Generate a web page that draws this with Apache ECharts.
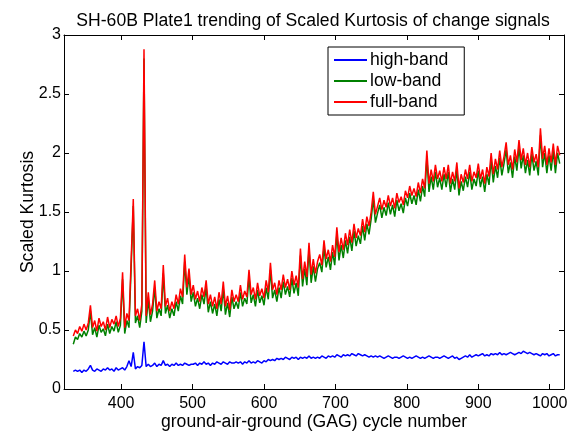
<!DOCTYPE html>
<html>
<head>
<meta charset="utf-8">
<script src="https://cdn.jsdelivr.net/npm/echarts@6/dist/echarts.min.js"></script>
<style>
  html, body { margin: 0; padding: 0; background: #fff; }
  #chart { width: 574px; height: 432px; }
</style>
</head>
<body>
<div id="chart"></div>
<script>
// GAG cycle numbers (every 3rd cycle from 333 to 1014)
const firstCycle = 333;
const cycleStep = 3;

// Scaled kurtosis, high-band change signal
const highBand = [
  0.15,0.16,0.15,0.16,0.14,0.16,0.15,0.17,0.20,0.16,0.15,0.17,0.16,0.15,0.17,0.16,0.18,0.16,0.17,0.15,0.18,0.16,0.17,
  0.18,0.16,0.19,0.24,0.19,0.31,0.17,0.19,0.18,0.20,0.40,0.19,0.21,0.19,0.20,0.22,0.19,0.21,0.20,0.24,0.20,0.21,0.19,0.21,0.20,0.22,0.20,0.21,0.20,0.22,0.21,0.20,0.21,
  0.21,0.22,0.20,0.22,0.21,0.23,0.21,0.22,0.20,0.22,0.21,0.23,0.22,0.21,0.23,0.22,0.21,0.23,0.22,0.22,
  0.23,0.22,0.23,0.21,0.23,0.22,0.24,0.22,0.23,0.22,0.24,0.23,0.22,0.24,0.23,0.25,0.24,0.25,0.24,0.26,
  0.25,0.26,0.25,0.27,0.26,0.25,0.27,0.26,0.27,0.25,0.27,0.26,0.27,0.26,0.28,0.26,0.27,0.26,
  0.27,0.26,0.28,0.27,0.26,0.28,0.27,0.28,0.27,0.29,0.28,0.27,0.29,0.28,0.29,0.28,0.30,0.29,0.28,0.30,0.29,0.28,0.29,0.28,0.27,0.28,0.27,0.28,
  0.27,0.28,0.27,0.26,0.27,0.28,0.27,0.26,0.27,0.27,0.26,0.27,0.28,0.27,0.26,0.27,0.26,0.27,0.28,0.27,0.26,0.27,0.26,0.27,0.28,0.27,0.26,0.27,0.27,0.26,0.27,0.28,
  0.27,0.26,0.27,0.28,0.26,0.27,0.25,0.26,0.27,0.28,0.27,0.29,0.27,0.28,0.29,0.28,0.29,0.30,0.28,0.29,0.28,0.30,0.29,
  0.30,0.29,0.31,0.29,0.30,0.29,0.30,0.31,0.30,0.29,0.30,0.31,0.30,0.32,0.31,0.30,0.31,0.30,0.29,0.30,0.29,0.28,0.30,0.29,0.30,0.28,0.29,0.30,0.28,0.29,0.29
];

// Scaled kurtosis, low-band change signal
const lowBand = [
  0.38,0.44,0.42,0.47,0.44,0.49,0.45,0.50,0.66,0.46,0.52,0.44,0.54,0.48,0.51,0.45,0.55,0.47,0.53,0.49,0.57,0.48,0.54,
  0.93,0.47,0.58,0.52,1.03,1.55,0.56,0.62,0.52,0.66,2.80,0.56,0.76,0.57,0.66,0.86,0.60,0.68,0.62,0.98,0.64,0.71,0.60,0.68,0.62,0.74,0.66,0.79,0.72,1.08,0.80,0.96,0.74,
  0.82,0.70,0.77,0.68,0.80,0.72,0.86,0.65,0.74,0.64,0.72,0.62,0.76,0.66,0.85,0.63,0.73,0.61,0.78,0.68,
  0.74,0.68,0.82,0.70,0.77,0.72,0.95,0.73,0.80,0.70,0.84,0.73,0.79,0.71,0.86,0.76,1.01,0.77,0.84,0.74,
  0.86,0.77,0.91,0.80,0.87,0.78,0.94,0.81,0.90,0.79,1.13,0.87,1.02,0.88,1.18,0.90,1.04,0.91,
  1.02,1.07,0.99,1.20,1.03,1.12,1.01,1.16,1.05,1.31,1.09,1.22,1.11,1.26,1.15,1.29,1.17,1.34,1.21,1.30,1.23,1.38,1.26,1.40,1.31,1.44,1.61,1.41,
  1.49,1.56,1.45,1.54,1.47,1.58,1.48,1.56,1.46,1.60,1.51,1.57,1.49,1.62,1.55,1.66,1.57,1.64,1.56,1.69,1.59,1.72,1.63,1.96,1.67,1.80,1.69,1.84,1.71,1.79,1.69,1.82,
  1.71,1.84,1.67,1.78,1.69,1.86,1.64,1.76,1.68,1.80,1.71,1.84,1.69,1.78,1.72,1.85,1.71,1.80,1.67,1.82,1.73,1.94,1.75,
  1.89,1.79,1.96,1.81,1.91,2.03,1.83,1.92,1.79,1.97,1.85,2.05,1.87,1.98,1.83,1.94,1.81,1.99,1.85,1.93,1.81,2.15,1.88,2.00,1.83,1.98,1.85,2.02,1.83,2.00,1.91
];

// Scaled kurtosis, full-band change signal
const fullBand = [
  0.45,0.50,0.47,0.53,0.49,0.55,0.50,0.56,0.71,0.52,0.58,0.49,0.60,0.53,0.57,0.50,0.61,0.52,0.59,0.55,0.62,0.53,0.60,
  0.99,0.52,0.64,0.58,1.09,1.61,0.62,0.68,0.58,0.72,2.88,0.62,0.82,0.63,0.72,0.92,0.66,0.74,0.68,1.05,0.70,0.77,0.66,0.74,0.68,0.80,0.72,0.85,0.78,1.14,0.86,1.02,0.80,
  0.88,0.76,0.83,0.74,0.86,0.78,0.92,0.72,0.80,0.70,0.78,0.68,0.82,0.72,0.91,0.70,0.79,0.67,0.84,0.74,
  0.80,0.74,0.88,0.76,0.83,0.78,1.01,0.80,0.86,0.76,0.90,0.79,0.85,0.77,0.92,0.82,1.07,0.84,0.90,0.80,
  0.92,0.84,0.97,0.86,0.93,0.84,1.00,0.88,0.96,0.86,1.19,0.93,1.08,0.95,1.24,0.97,1.10,0.98,
  1.08,1.14,1.05,1.26,1.10,1.18,1.08,1.22,1.12,1.37,1.16,1.28,1.18,1.32,1.22,1.35,1.24,1.40,1.28,1.36,1.30,1.44,1.33,1.46,1.38,1.50,1.67,1.48,
  1.55,1.62,1.52,1.60,1.54,1.64,1.55,1.62,1.53,1.66,1.58,1.63,1.56,1.68,1.62,1.72,1.64,1.70,1.63,1.75,1.66,1.78,1.70,2.02,1.74,1.86,1.76,1.90,1.78,1.85,1.76,1.88,
  1.78,1.90,1.74,1.84,1.76,1.92,1.70,1.82,1.75,1.86,1.78,1.90,1.76,1.84,1.79,1.91,1.78,1.86,1.74,1.88,1.80,2.00,1.82,
  1.95,1.86,2.02,1.88,1.97,2.09,1.90,1.98,1.86,2.03,1.92,2.11,1.94,2.04,1.90,2.00,1.88,2.05,1.92,1.99,1.88,2.21,1.95,2.06,1.90,2.04,1.92,2.08,1.90,2.06,1.98
];

const xTicks = [400, 500, 600, 700, 800, 900, 1000];
const yTicks = [0, 0.5, 1, 1.5, 2, 2.5, 3];

const cycles = highBand.map((_, i) => firstCycle + i * cycleStep);
const pairs = vals => vals.map((v, i) => [cycles[i], v]);

const FONT = 'Liberation Sans, Arial, sans-serif';
const TICK_FS = 16;
const LABEL_FS = 17.6;
const axisLine = { show: true, onZero: false, lineStyle: { color: '#000', width: 1 } };
const tick = { show: true, inside: true, length: 5, lineStyle: { color: '#000' } };

const chart = echarts.init(document.getElementById('chart'), null, { renderer: 'canvas' });
chart.setOption({
  animation: false,
  backgroundColor: '#fff',
  title: {
    text: 'SH-60B Plate1 trending of Scaled Kurtosis of change signals',
    left: 308, top: 7, textAlign: 'center',
    textStyle: { fontFamily: FONT, fontSize: LABEL_FS, fontWeight: 'normal', color: '#000' }
  },
  grid: { left: 64, right: 10, top: 35, bottom: 43, outerBoundsMode: 'none' },
  legend: {
    orient: 'vertical', left: 328, top: 47,
    backgroundColor: '#fff', borderColor: '#000', borderWidth: 1,
    padding: [4, 16, 4, 6], itemGap: 3, itemWidth: 33, itemHeight: 2,
    icon: 'rect',
    textStyle: { fontFamily: FONT, fontSize: LABEL_FS, color: '#000', padding: [0, 0, 0, -2] },
    data: ['high-band', 'low-band', 'full-band']
  },
  xAxis: [{
    type: 'value', min: 320, max: 1020, position: 'bottom',
    name: 'ground-air-ground (GAG) cycle number', nameLocation: 'middle', nameGap: 24,
    nameMoveOverlap: false,
    nameTextStyle: { fontFamily: FONT, fontSize: LABEL_FS, color: '#000' },
    axisLine, axisTick: Object.assign({ customValues: xTicks }, tick),
    axisLabel: { customValues: xTicks, formatter: v => String(v),
      fontFamily: FONT, fontSize: TICK_FS, color: '#000', margin: 7 },
    splitLine: { show: false }
  }, {
    type: 'value', min: 320, max: 1020, position: 'top',
    axisLine, axisTick: Object.assign({ customValues: xTicks }, tick),
    axisLabel: { show: false, customValues: xTicks }, splitLine: { show: false }
  }],
  yAxis: [{
    type: 'value', min: 0, max: 3, interval: 0.5, position: 'left',
    name: 'Scaled Kurtosis', nameLocation: 'middle', nameGap: 27,
    nameMoveOverlap: false,
    nameTextStyle: { fontFamily: FONT, fontSize: LABEL_FS, color: '#000' },
    axisLine, axisTick: tick,
    axisLabel: { customValues: yTicks, formatter: v => String(v),
      fontFamily: FONT, fontSize: TICK_FS, color: '#000', margin: 3 },
    splitLine: { show: false }
  }, {
    type: 'value', min: 0, max: 3, interval: 0.5, position: 'right',
    axisLine, axisTick: tick, axisLabel: { show: false }, splitLine: { show: false }
  }],
  series: [
    { name: 'high-band', type: 'line', data: pairs(highBand), symbol: 'none',
      lineStyle: { color: '#0000ff', width: 1.5 }, itemStyle: { color: '#0000ff' } },
    { name: 'low-band', type: 'line', data: pairs(lowBand), symbol: 'none',
      lineStyle: { color: '#008000', width: 1.5 }, itemStyle: { color: '#008000' } },
    { name: 'full-band', type: 'line', data: pairs(fullBand), symbol: 'none',
      lineStyle: { color: '#ff0000', width: 1.5 }, itemStyle: { color: '#ff0000' } }
  ]
});
</script>
</body>
</html>
